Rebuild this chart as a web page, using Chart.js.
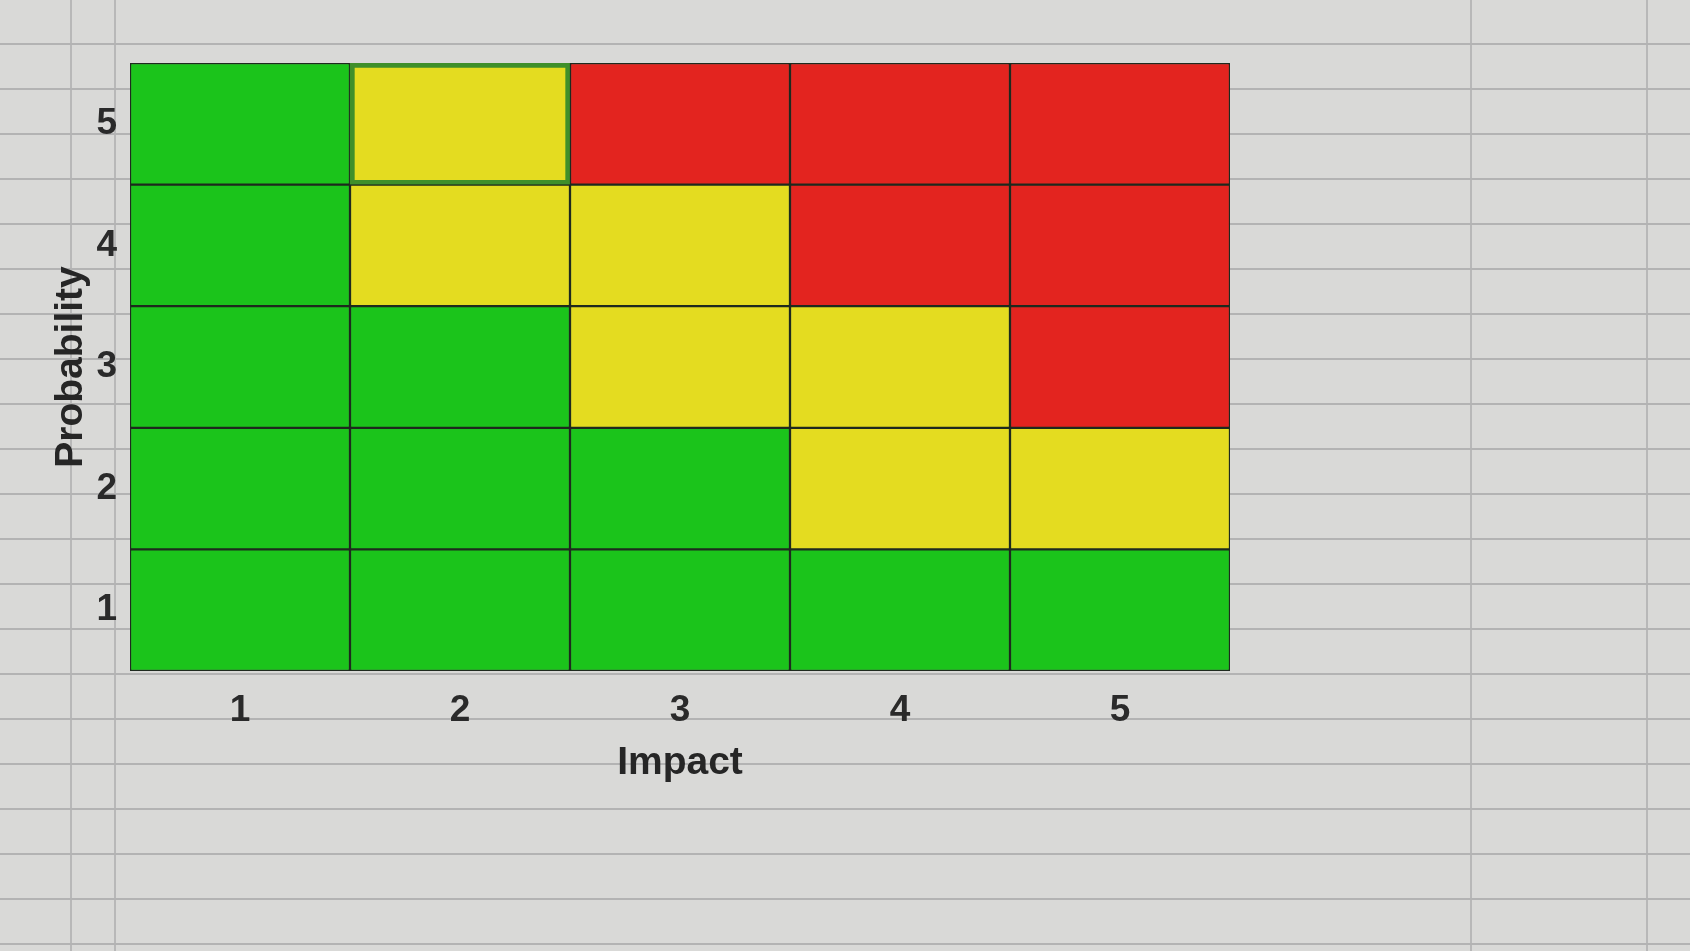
<!DOCTYPE html>
<html>
<head>
<meta charset="utf-8">
<title>Risk matrix</title>
<script src="https://cdn.jsdelivr.net/npm/chart.js@4"></script>
<style>
  html, body { margin: 0; padding: 0; }
  body {
    width: 1690px;
    height: 951px;
    overflow: hidden;
    /* spreadsheet look behind the matrix */
    background-color: #d9d9d7;
    background-image:
      repeating-linear-gradient(to bottom, transparent 0 43px, #b3b3b3 43px 45px),
      linear-gradient(to right, transparent 0 70px, #b8b8b8 70px 72px, transparent 72px 114px, #b8b8b8 114px 116px,
        transparent 116px 1470px, #b8b8b8 1470px 1472px, transparent 1472px 1646px, #b8b8b8 1646px 1648px, transparent 1648px);
  }
  #wrap { position: absolute; left: 0; top: 0; width: 1690px; height: 951px; }
</style>
</head>
<body>
<div id="wrap"><canvas id="riskChart"></canvas></div>
<script>
  // Axis categories
  const impactLabels = ['1', '2', '3', '4', '5'];
  const probabilityLabels = ['1', '2', '3', '4', '5'];

  // Risk level per cell, one array per probability row, across impact 1..5
  const probability1 = ['low', 'low', 'low', 'low', 'low'];
  const probability2 = ['low', 'low', 'low', 'medium', 'medium'];
  const probability3 = ['low', 'low', 'medium', 'medium', 'high'];
  const probability4 = ['low', 'medium', 'medium', 'high', 'high'];
  const probability5 = ['low', 'medium', 'high', 'high', 'high'];

  const rows = [probability1, probability2, probability3, probability4, probability5];

  const levelColors = {
    low: '#1bc41b',
    medium: '#e4dc20',
    high: '#e3241f'
  };

  // selected cell in the sheet (probability 5, impact 2) gets the Excel-style green outline
  const selectedRow = 4;
  const selectedCol = 1;

  const datasets = rows.map((row, r) => ({
    label: 'Probability ' + probabilityLabels[r],
    data: row.map(() => 1),
    backgroundColor: row.map(level => levelColors[level]),
    borderColor: row.map((level, c) => (r === selectedRow && c === selectedCol) ? '#3f8f2a' : '#1e2a1e'),
    borderWidth: row.map((level, c) => (r === selectedRow && c === selectedCol) ? 5 : 1.5),
    borderSkipped: false,
    barPercentage: 1,
    categoryPercentage: 1
  }));

  const fontFamily = "'Liberation Sans', Arial, sans-serif";
  const tickFont = { family: fontFamily, size: 37, weight: 'bold' };
  const titleFont = { family: fontFamily, size: 39, weight: 'bold' };

  new Chart(document.getElementById('riskChart'), {
    type: 'bar',
    data: { labels: impactLabels, datasets: datasets },
    options: {
      responsive: true,
      maintainAspectRatio: false,
      animation: false,
      layout: { padding: { left: 44, top: 63, right: 460, bottom: 160 } },
      plugins: {
        legend: { display: false },
        tooltip: { enabled: false }
      },
      scales: {
        x: {
          stacked: true,
          grid: { display: false },
          border: { display: false },
          ticks: { color: '#2a2a2a', font: tickFont, padding: 10 },
          title: { display: true, text: 'Impact', color: '#262626', font: titleFont, padding: { top: 2 } },
          afterFit(scale) { scale.height = 120; }
        },
        y: {
          stacked: true,
          min: 0,
          max: 5,
          grid: { display: false },
          border: { display: false },
          afterBuildTicks(scale) {
            scale.ticks = probabilityLabels.map((p, i) => ({ value: i + 0.5 }));
          },
          ticks: {
            color: '#2a2a2a',
            font: tickFont,
            padding: 5,
            callback: (value, index) => probabilityLabels[index]
          },
          title: { display: true, text: 'Probability', color: '#262626', font: titleFont, padding: { bottom: 0 } },
          afterFit(scale) { scale.width = 86; }
        }
      }
    }
  });
</script>
</body>
</html>
